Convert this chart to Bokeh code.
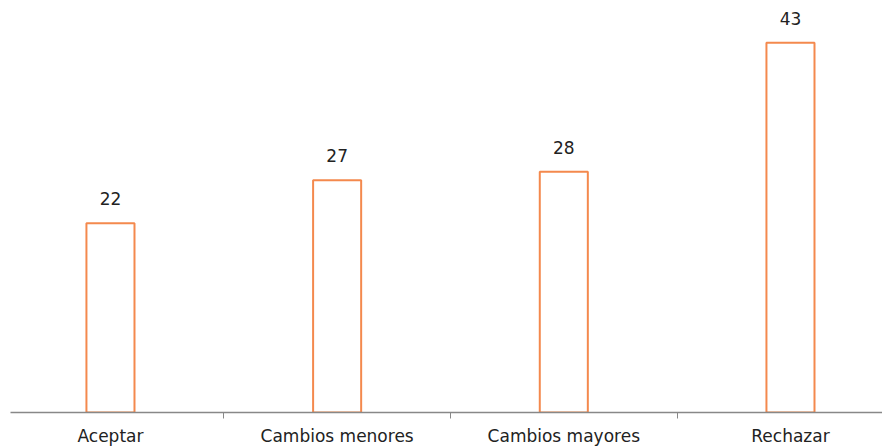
from bokeh.plotting import figure
from bokeh.models import ColumnDataSource, Range1d, FixedTicker
from bokeh.core.properties import value
from bokeh.embed import file_html
from bokeh.resources import INLINE

categories = ["Aceptar", "Cambios menores", "Cambios mayores", "Rechazar"]
values = [22, 27, 28, 43]

xs = list(range(len(categories)))
src = ColumnDataSource(dict(x=xs, top=values, label=[str(v) for v in values]))

p = figure(width=882, height=448, output_backend="svg", toolbar_location=None,
           x_range=Range1d(-0.441, 3.406), y_range=Range1d(0, 47.9),
           min_border_left=10, min_border_right=0, min_border_top=0, min_border_bottom=30)
p.outline_line_color = None
p.grid.visible = False
p.yaxis.visible = False

p.vbar(x="x", top="top", width=0.212, bottom=0, source=src,
       fill_color="white", line_color="#F4894D", line_width=2)
p.text(x="x", y="top", text="label", source=src, text_align="center",
       text_baseline="bottom", y_offset=-18, text_font=value("DejaVu Sans"),
       text_font_size="17px", text_color="#222222")

ax = p.xaxis[0]
ax.ticker = FixedTicker(ticks=xs, minor_ticks=[-0.5 + i for i in range(len(categories) + 1)])
ax.major_label_overrides = {i: c for i, c in enumerate(categories)}
ax.major_tick_line_color = None
ax.major_tick_in = 0
ax.major_tick_out = 6
ax.minor_tick_in = 0
ax.minor_tick_out = 6
ax.minor_tick_line_color = "#888888"
ax.axis_line_color = "#888888"
ax.axis_line_width = 1.5
ax.major_label_text_font = "DejaVu Sans"
ax.major_label_text_font_size = "17px"
ax.major_label_text_color = "#222222"
ax.major_label_standoff = 7

open("out.html", "w").write(file_html(p, INLINE))
